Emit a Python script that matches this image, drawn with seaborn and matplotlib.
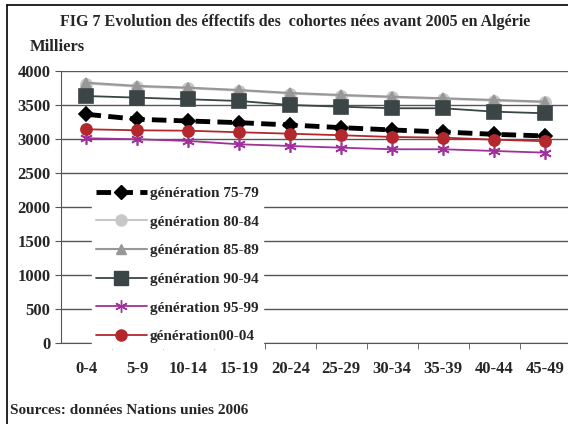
import numpy as np
import pandas as pd
import seaborn as sns
import matplotlib.pyplot as plt
from matplotlib.lines import Line2D

sns.set_style("white")
plt.rcParams['font.family'] = ['Liberation Serif', 'DejaVu Serif']
plt.rcParams['font.weight'] = 'bold'

ages = ["0-4", "5-9", "10-14", "15-19", "20-24", "25-29", "30-34", "35-39", "40-44", "45-49"]
gen_75_79 = [3363, 3290, 3265, 3240, 3206, 3167, 3133, 3103, 3069, 3045]
gen_80_84 = [3815, 3770, 3745, 3712, 3668, 3638, 3612, 3590, 3565, 3540]
gen_85_89 = [3828, 3780, 3755, 3720, 3677, 3647, 3622, 3599, 3574, 3549]
gen_90_94 = [3632, 3608, 3584, 3559, 3500, 3475, 3452, 3452, 3402, 3378]
gen_95_99 = [3011, 2996, 2971, 2922, 2897, 2872, 2849, 2849, 2824, 2799]
gen_00_04 = [3143, 3128, 3122, 3099, 3078, 3055, 3030, 3020, 2990, 2967]

labels = ["génération 75-79", "génération 80-84", "génération 85-89",
          "génération 90-94", "génération 95-99", "génération00-04"]
series = [gen_75_79, gen_80_84, gen_85_89, gen_90_94, gen_95_99, gen_00_04]

styles = [
    dict(color="black", lw=3.5, marker="D", ms=7, dashes=(3, 1.5)),
    dict(color="#c8c8c8", lw=1.5, marker="o", ms=8, dashes=None),
    dict(color="#979797", lw=1.5, marker="^", ms=7, dashes=None),
    dict(color="#3b4545", lw=1.3, marker="s", ms=10, dashes=None),
    dict(color="#a0309a", lw=1.3, marker=(6, 2, 0), ms=9, dashes=None),
    dict(color="#b3282d", lw=1.3, marker="o", ms=8, dashes=None),
]

fig = plt.figure(figsize=(5.68, 4.24), dpi=100)
W, H = 568, 424
ax = fig.add_axes([61 / W, (H - 343) / H, (570.5 - 61) / W, (343 - 71) / H])

# draw order: back to front
order = [1, 2, 3, 0, 5, 4]
for i in order:
    df = pd.DataFrame({"age": ages, "val": series[i]})
    st = styles[i]
    sns.lineplot(data=df, x="age", y="val", ax=ax, color=st["color"], lw=st["lw"],
                 marker=st["marker"], markersize=st["ms"], markeredgecolor=st["color"],
                 markerfacecolor=st["color"], markeredgewidth=1.2, sort=False,
                 zorder=3 + i, clip_on=False)
    if st["dashes"]:
        ax.lines[-1].set_dashes(st["dashes"])

ax.set_xlim(-0.5, 9.5)
ax.set_ylim(0, 4000)
ax.set_yticks(np.arange(0, 4001, 500))
ax.yaxis.grid(True, color="#555555", lw=1)
ax.set_axisbelow(True)
for s in ["top", "right"]:
    ax.spines[s].set_visible(False)
ax.spines["left"].set_color("#555555")
ax.spines["bottom"].set_color("#555555")
ax.set_xlabel("")
ax.set_ylabel("")

ax.set_xticks(range(len(ages)))
ax.set_xticklabels(ages, fontsize=12, fontweight="bold")
ax.set_xticks(np.arange(0.5, 9.5, 1), minor=True)
ax.tick_params(axis="x", which="major", length=0, pad=13)
ax.tick_params(axis="x", which="minor", length=4, color="#555555", direction="out", bottom=True)
ax.tick_params(axis="y", length=4, color="#555555", direction="out", left=True, labelsize=12)
for t in ax.get_yticklabels():
    t.set_fontweight("bold")

handles = []
for i in range(6):
    st = styles[i]
    h = Line2D([0], [0], color=st["color"], lw=st["lw"], marker=st["marker"],
               markersize=st["ms"], markerfacecolor=st["color"], markeredgecolor=st["color"])
    if st["dashes"]:
        h.set_dashes(st["dashes"])
    handles.append(h)
leg = ax.legend(handles, labels, loc="upper left", bbox_to_anchor=(84 / W, (H - 174) / H),
                bbox_transform=fig.transFigure, frameon=True, fancybox=False,
                edgecolor="white", facecolor="white", framealpha=1,
                prop=dict(family="Liberation Serif", weight="bold", size=11),
                handlelength=3.3, handletextpad=0.2, labelspacing=0.98, borderpad=0.3)
leg.set_zorder(20)

fig.text(295 / W, (H - 22) / H, "FIG 7 Evolution des éffectifs des  cohortes nées avant 2005 en Algérie",
         ha="center", va="center", fontsize=11.5, fontweight="bold")
fig.text(30 / W, (H - 47) / H, "Milliers", ha="left", va="center", fontsize=12, fontweight="bold")
fig.text(10 / W, (H - 410) / H, "Sources: données Nations unies 2006", ha="left", va="center",
         fontsize=11, fontweight="bold")

fig.add_artist(plt.Line2D([7 / W, 7 / W], [0, (H - 5) / H], color="black", lw=1.2,
                          transform=fig.transFigure))
fig.add_artist(plt.Line2D([7 / W, 1], [(H - 5) / H, (H - 5) / H], color="black", lw=1.2,
                          transform=fig.transFigure))

fig.savefig("out.png", dpi=100)
